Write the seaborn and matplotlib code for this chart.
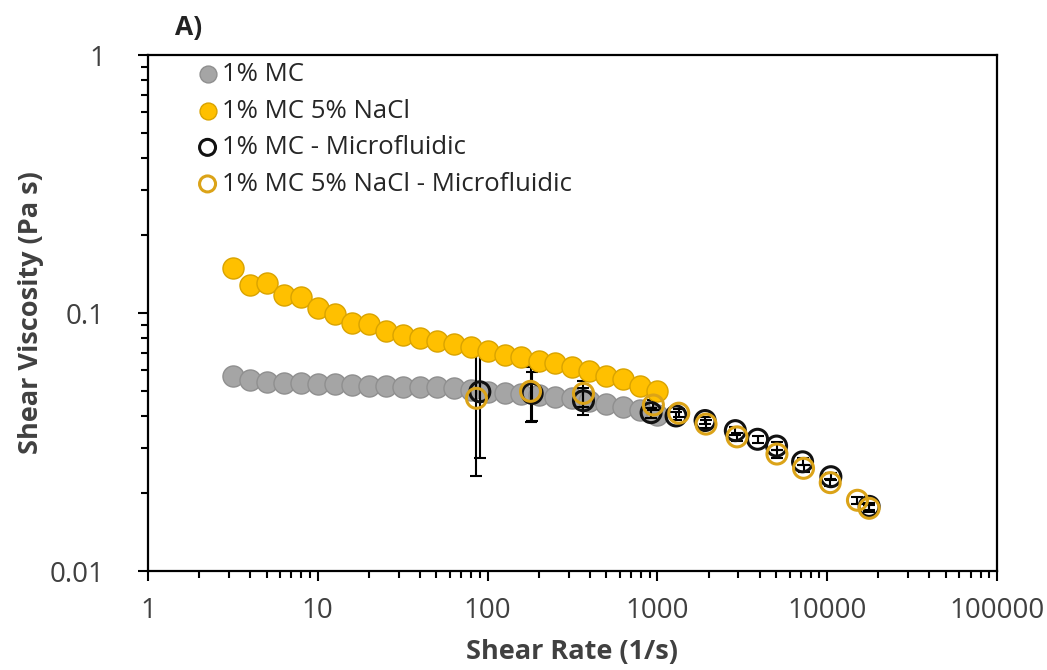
import numpy as np
import pandas as pd
import matplotlib
matplotlib.use("Agg")
import matplotlib.pyplot as plt
import seaborn as sns
from matplotlib.ticker import FixedLocator, FixedFormatter, LogLocator, NullFormatter

# ---- data ----
rate_rot = [3.16, 3.98, 5.01, 6.31, 7.94, 10.0, 12.6, 15.8, 20.0, 25.1, 31.6, 39.8, 50.1,
            63.1, 79.4, 100, 126, 158, 200, 251, 316, 398, 501, 631, 794, 1000]
visc_mc = [0.0570, 0.0550, 0.0542, 0.0537, 0.0534, 0.0529, 0.0529, 0.0524, 0.0523, 0.0521,
           0.0518, 0.0518, 0.0515, 0.0510, 0.0503, 0.0495, 0.0488, 0.0485, 0.0481, 0.0474,
           0.0467, 0.0457, 0.0443, 0.0431, 0.0420, 0.0402]
visc_mc_nacl = [0.149, 0.128, 0.131, 0.117, 0.115, 0.105, 0.099, 0.0917, 0.0904, 0.0854,
                0.0824, 0.0800, 0.0781, 0.0758, 0.0736, 0.0714, 0.0689, 0.0674, 0.0653, 0.0638,
                0.0616, 0.0598, 0.0570, 0.0553, 0.0521, 0.0500]

rate_mf_mc = [90, 183, 367, 918, 1288, 1909, 2877, 3890, 5033, 7160, 10510, 17660]
visc_mf_mc = [0.0495, 0.0488, 0.0457, 0.0411, 0.0399, 0.0383, 0.0350, 0.0324, 0.0305, 0.0265,
              0.0232, 0.0178]
err_mf_mc = [0.0222, 0.0105, 0.0055, 0.0018, 0.0015, 0.0013, 0.0012, 0.0010, 0.0010, 0.0008,
             0.0007, 0.0006]

rate_mf_nacl = [86, 179, 367, 947, 1336, 1933, 2943, 5059, 7256, 10420, 15070, 17660]
visc_mf_nacl = [0.0467, 0.0497, 0.0488, 0.0440, 0.0409, 0.0371, 0.0331, 0.0284, 0.0250,
                0.0220, 0.0188, 0.0175]
err_mf_nacl = [0.0234, 0.0118, 0.0055, 0.0018, 0.0015, 0.0013, 0.0012, 0.0010, 0.0008,
               0.0007, 0.0006, 0.0006]

labels = ["1% MC", "1% MC 5% NaCl", "1% MC - Microfluidic", "1% MC 5% NaCl - Microfluidic"]
x_ticks = [1, 10, 100, 1000, 10000, 100000]
x_ticklabels = ["1", "10", "100", "1000", "10000", "100000"]
y_ticks = [0.01, 0.1, 1]
y_ticklabels = ["0.01", "0.1", "1"]

# ---- style ----
sns.set_theme(style="white")
plt.rcParams['font.family'] = ['Open Sans', 'DejaVu Sans']
TXT = "#404040"
GRAY, GRAY_E = "#A5A5A5", "#8F8F8F"
GOLD, GOLD_E = "#FFC000", "#D9A300"
GOLD_O = "#DBA318"

fig = plt.figure(figsize=(10.47, 6.70), dpi=100)
ax = fig.add_axes([148/1047, 1-571/670, (997-148)/1047, (571-55)/670])

S = 230
df1 = pd.DataFrame({"x": rate_rot, "y": visc_mc})
df2 = pd.DataFrame({"x": rate_rot, "y": visc_mc_nacl})
df3 = pd.DataFrame({"x": rate_mf_mc, "y": visc_mf_mc})
df4 = pd.DataFrame({"x": rate_mf_nacl, "y": visc_mf_nacl})

sns.scatterplot(data=df1, x="x", y="y", ax=ax, s=S, color=GRAY, edgecolor=GRAY_E,
                linewidth=1.0, label=labels[0], zorder=2)
ax.errorbar(rate_mf_mc, visc_mf_mc, yerr=err_mf_mc, fmt="none", ecolor="black",
            elinewidth=1.5, capsize=4.3, capthick=1.5, zorder=2.5)
ax.errorbar(rate_mf_nacl, visc_mf_nacl, yerr=err_mf_nacl, fmt="none", ecolor="black",
            elinewidth=1.5, capsize=4.3, capthick=1.5, zorder=2.5)
sns.scatterplot(data=df2, x="x", y="y", ax=ax, s=S, color=GOLD, edgecolor=GOLD_E,
                linewidth=1.0, label=labels[1], zorder=3)
sns.scatterplot(data=df3, x="x", y="y", ax=ax, s=S*0.9, facecolor="none", edgecolor="#111111",
                linewidth=2.2, label=labels[2], zorder=4)
sns.scatterplot(data=df4, x="x", y="y", ax=ax, s=S*0.9, facecolor="none", edgecolor=GOLD_O,
                linewidth=2.2, label=labels[3], zorder=5)

ax.set_xscale("log")
ax.set_yscale("log")
ax.set_xlim(1, 100000)
ax.set_ylim(0.01, 1)

ax.xaxis.set_major_locator(FixedLocator(x_ticks))
ax.xaxis.set_major_formatter(FixedFormatter(x_ticklabels))
ax.yaxis.set_major_locator(FixedLocator(y_ticks))
ax.yaxis.set_major_formatter(FixedFormatter(y_ticklabels))
ax.xaxis.set_minor_locator(LogLocator(base=10, subs=np.arange(2, 10)))
ax.yaxis.set_minor_locator(LogLocator(base=10, subs=np.arange(2, 10)))
ax.xaxis.set_minor_formatter(NullFormatter())
ax.yaxis.set_minor_formatter(NullFormatter())

ax.tick_params(axis="both", which="major", direction="out", length=7, width=1.5,
               colors="black", labelcolor=TXT, labelsize=20, bottom=True, left=True)
ax.tick_params(axis="both", which="minor", direction="out", length=5, width=1.5,
               colors="black", bottom=True, left=True)
ax.tick_params(axis="y", which="major", pad=24)
ax.tick_params(axis="x", which="major", pad=12)

for sp in ax.spines.values():
    sp.set_visible(True)
    sp.set_color("black")
    sp.set_linewidth(1.6)

ax.set_xlabel("Shear Rate (1/s)", fontsize=19.5, fontweight="bold", color=TXT)
ax.set_ylabel("Shear Viscosity (Pa s)", fontsize=19.5, fontweight="bold", color=TXT)
ax.xaxis.set_label_coords(0.5, -0.131)
ax.yaxis.set_label_coords(-0.122, 0.5)

fig.text(175/1047, 1-28/670, "A)", fontsize=19, fontweight="bold", color="#222222",
         ha="left", va="center")

leg = ax.legend(loc="upper left", bbox_to_anchor=(178/1047, 1-44/670),
                bbox_transform=fig.transFigure, frameon=False, fontsize=18.5,
                markerscale=0.8, handletextpad=0.1, labelspacing=0.45, borderpad=0.2,
                handlelength=0.9)
for t in leg.get_texts():
    t.set_color("#262626")

fig.savefig("out.png", dpi=100)
